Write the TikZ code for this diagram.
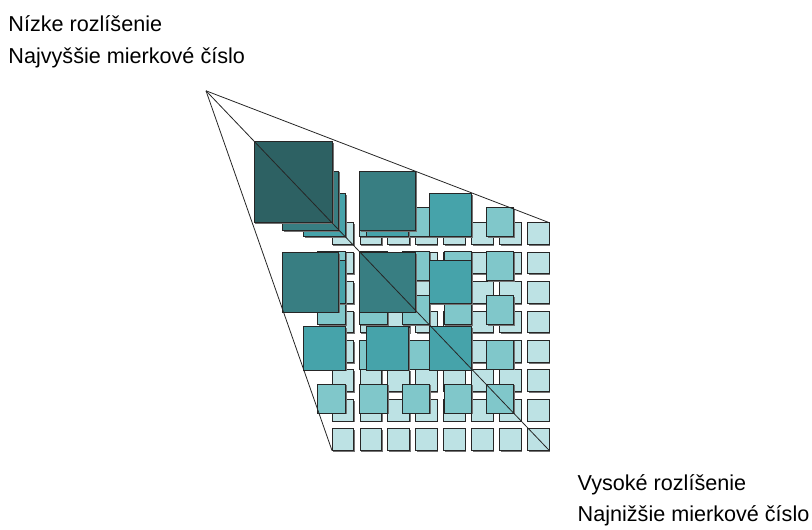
\documentclass[tikz,border=0pt]{standalone}
\usepackage{fontspec}
\setmainfont{Liberation Sans}
\definecolor{cA}{HTML}{BDE2E4}
\definecolor{cB}{HTML}{80C7CA}
\definecolor{cC}{HTML}{46A3AA}
\definecolor{cD}{HTML}{387E82}
\definecolor{cE}{HTML}{2D6163}
\tikzset{
  sq/.style={draw=black!85,line width=0.9pt},
  shad/.style={fill=black!55},
  lbl/.style={inner sep=0pt,anchor=base west,font=\fontsize{21.6}{26}\selectfont},
  ray/.style={draw=black!85,line width=0.8pt}
}
% level: #1 color, #2 n, #3 x0, #4 xpitch, #5 w, #6 y0, #7 ypitch, #8 h
\newcommand{\pyrlevel}[8]{%
  \foreach \i in {1,...,#2}{%
    \foreach \j in {1,...,#2}{%
      \pgfmathsetmacro{\xa}{#3+(\i-1)*#4}%
      \pgfmathsetmacro{\ya}{#6+(\j-1)*#7}%
      \fill[shad] (\xa+1.3,\ya+1.3) rectangle ++(#5,#8);
      \filldraw[sq,fill=#1] (\xa,\ya) rectangle ++(#5,#8);
    }%
  }%
}
\begin{document}
\begin{tikzpicture}[x=1pt,y=-1pt]
\useasboundingbox (0,0) rectangle (812,530);
\pyrlevel{cA}{8}{332}{27.95}{21.3}{222.7}{29.43}{21.8}
\pyrlevel{cB}{5}{317.7}{42.15}{27.6}{207.7}{44.1}{29}
\pyrlevel{cC}{3}{303.3}{63}{42.2}{193.3}{66.7}{43.4}
\pyrlevel{cD}{2}{282.7}{76.6}{56}{171}{81.7}{59.3}
\pyrlevel{cE}{1}{254}{0}{78.3}{141.5}{0}{80.8}
\coordinate (apex) at (206,90.8);
\coordinate (tr) at (549.3,222.7);
\coordinate (bl) at (332,450.5);
\coordinate (br) at (549.3,450.5);
\draw[ray] (apex) -- (tr);
\draw[ray] (apex) -- (bl);
\draw[ray] (apex) -- (br);
\node[lbl] (t1) at (8.3,31.7) {Nízke rozlíšenie};
\node[lbl] (t2) at (8.3,63.5) {Najvyššie mierkové číslo};
\node[lbl] (t3) at (577.5,490) {Vysoké rozlíšenie};
\node[lbl] (t4) at (577.5,521.7) {Najnižšie mierkové číslo};
\end{tikzpicture}
\end{document}
